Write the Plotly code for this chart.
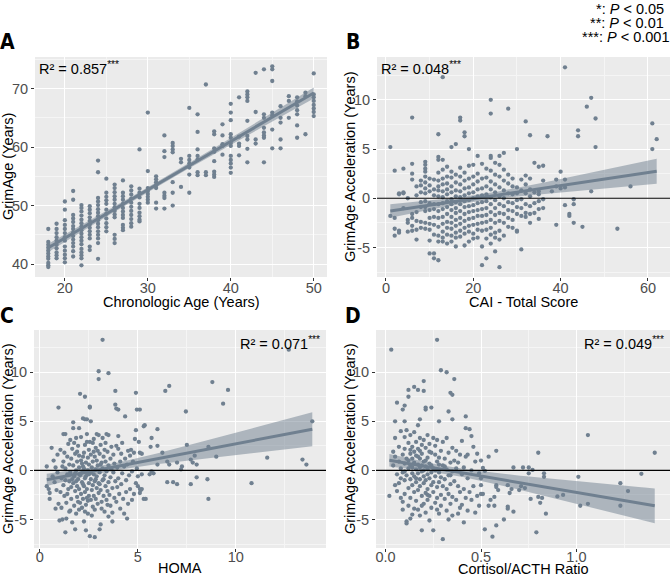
import numpy as np
import plotly.graph_objects as go

# ---------------- Panel A : GrimAge vs chronologic age ----------------
a_ages = [18, 19, 20, 21, 22, 23, 24, 25, 26, 27, 28, 29, 30, 31, 32, 33, 34,
          35, 36, 37, 38, 39, 40, 41, 42, 43, 44, 45, 46, 47, 48, 49, 50]
a_grimage = [
    [46.0, 43.8, 43.3, 42.8, 42.3, 41.8, 41.3, 40.9, 40.2, 39.8, 39.5],
    [46.9, 46.0, 45.3, 44.6, 44.0, 43.3, 42.7, 42.0, 41.5, 41.0],
    [50.7, 49.3, 47.5, 46.7, 46.0, 45.3, 44.6, 44.0, 43.0, 42.3, 41.6, 41.0, 40.3],
    [52.5, 51.0, 48.4, 47.8, 47.2, 46.5, 46.0, 45.4, 44.8, 44.2, 43.6, 43.0, 42.2, 41.3],
    [50.1, 49.6, 49.0, 48.3, 47.6, 47.0, 46.4, 45.8, 45.2, 44.6, 44.0, 43.4, 42.6, 42.0, 41.5, 41.0, 39.8],
    [49.9, 49.3, 48.7, 48.0, 47.4, 46.8, 46.2, 45.6, 45.0, 44.4, 43.0, 42.4],
    [57.7, 55.7, 51.3, 50.7, 50.1, 49.4, 48.8, 48.2, 47.5, 46.9, 46.3, 45.6, 45.0, 44.4, 43.6, 40.9],
    [54.6, 52.2, 51.5, 50.9, 50.3, 49.3, 48.6, 47.8, 47.0, 46.3, 45.6],
    [53.6, 53.0, 52.3, 51.6, 51.0, 50.3, 49.7, 49.1, 48.5, 48.0, 45.0, 44.3, 43.6],
    [54.3, 52.2, 51.6, 51.0, 50.3, 49.6, 49.0, 48.4, 47.9, 46.7, 46.2, 45.8],
    [53.3, 52.6, 51.9, 51.2, 50.5, 49.8, 49.1, 48.4, 47.7, 47.0, 46.4],
    [59.6, 52.9, 52.2, 51.4, 50.3, 49.6, 48.8, 48.2, 47.6, 47.3],
    [65.9, 55.9, 53.0, 52.5, 52.0, 51.5, 51.0, 50.5],
    [55.0, 54.5, 54.0, 53.5, 53.0, 50.5, 49.5],
    [62.0, 59.3, 58.3, 52.2, 51.7, 51.3, 49.5],
    [60.7, 60.2, 59.6, 59.1, 54.0, 52.2, 50.0],
    [58.0, 57.4, 53.2],
    [66.7, 58.5, 57.8, 57.2, 56.5, 55.3, 52.2],
    [65.6, 62.6, 59.6, 58.5, 57.9, 55.7, 55.2],
    [70.7, 55.7, 55.2],
    [62.7, 62.2, 59.8, 59.2, 57.6, 55.8, 55.3, 54.9],
    [63.9, 62.0, 60.5, 60.2, 58.7],
    [67.4, 65.9, 64.6, 62.2, 61.6, 60.7, 60.2, 58.5, 57.8, 57.2, 56.5, 55.6],
    [68.5, 61.8, 60.6, 60.2, 58.6],
    [69.5, 69.0, 68.5, 67.9, 64.5, 61.9, 61.3, 59.7, 57.4],
    [72.7, 66.0, 61.3, 60.6],
    [73.3, 65.6, 65.0, 63.3, 62.5, 62.0, 61.6, 57.4],
    [73.8, 73.3, 71.3, 65.9, 65.4, 63.0, 59.8],
    [67.0, 65.0, 64.2, 61.3, 59.8],
    [68.7, 67.9, 65.0],
    [68.5, 67.8, 67.1, 66.3, 65.6, 63.7, 61.6],
    [69.3, 68.7, 62.2],
    [72.6, 69.0, 68.5, 67.9, 67.2, 66.6, 66.0, 65.3],
]

# ---------------- Panel B : acceleration vs CAI total score ----------------
b_cai = [1, 2, 3, 4, 5, 6, 7, 8, 9, 10, 11, 12, 13, 14, 15, 16, 17, 18, 19, 20,
         21, 22, 23, 24, 25, 26, 27, 28, 29, 30, 31, 32, 33, 34, 35, 36, 37, 38,
         39, 40, 41, 42, 43, 44, 45, 46, 47, 48, 53, 56, 61, 62]
b_accel = [
    [5.2, -1.8],
    [2.8, -2.0, -3.1, -3.8],
    [0.5, 0.4, -3.3, -3.5],
    [3.0, 0.6, 0.5, -1.0],
    [0.0, -2.2, -2.5, -3.4],
    [8.2, 3.5, 2.5, 1.9, -1.6, -2.0, -2.8, -3.3],
    [1.2, 0.3, -1.4, -2.3, -3.2, -4.2],
    [1.8, 1.3, 0.6, -0.4, -0.9, -2.4, -3.0],
    [3.7, 3.4, 3.0, 2.7, 2.2, 1.6, 1.0, 0.5, -0.3, -0.9, -1.3, -2.5, -3.1],
    [2.0, 1.3, 0.7, -0.5, -1.2, -2.0, -2.6, -3.2, -4.3, -5.6],
    [1.9, 0.9, 0.3, -0.6, -1.1, -1.9, -2.7, -3.7, -5.6, -6.1],
    [6.5, 4.2, 3.9, 2.6, 1.8, 1.2, 0.8, 0.2, -0.6, -1.3, -2.0, -2.9, -3.8, -4.4, -6.3],
    [12.3, 3.9, 2.9, 2.0, 1.4, 0.7, 0.1, -0.5, -1.1, -1.9, -2.6, -3.4, -4.0, -4.4],
    [3.2, 2.2, 1.5, 0.9, 0.4, -0.3, -0.9, -1.6, -2.4, -3.0, -3.7, -4.6],
    [5.2, 2.7, 2.1, 1.2, 0.6, -0.1, -0.6, -1.2, -1.9, -2.5, -3.1, -3.8, -4.4],
    [5.5, 2.4, 1.6, 0.8, 0.2, -0.4, -1.0, -1.5, -2.2, -2.8, -3.5, -4.0, -4.9],
    [8.2, 7.9, 3.1, 2.2, 1.4, 0.7, 0.1, -0.6, -1.3, -2.0, -2.6, -3.3, -3.9],
    [6.7, 6.3, 2.6, 1.8, 1.0, 0.3, -0.3, -0.9, -1.6, -2.3, -3.0, -3.6, -4.8],
    [5.0, 3.3, 2.0, 1.1, 0.5, -0.2, -0.8, -1.4, -2.1, -2.8, -3.4, -4.4],
    [3.4, 2.2, 1.4, 0.6, 0.0, -0.7, -1.3, -2.0, -2.7, -3.6, -4.1],
    [4.3, 2.5, 1.7, 0.9, 0.2, -0.5, -1.2, -1.8, -2.6, -3.2, -4.0],
    [3.5, 2.0, 1.0, 0.3, -0.4, -1.1, -1.8, -2.5, -3.3, -4.9, -6.8],
    [3.0, 2.1, 1.2, 0.4, -0.3, -1.0, -1.7, -2.4, -3.2, -4.1, -6.1],
    [10.0, 8.6, 4.3, 4.1, 2.8, 1.7, 0.9, 0.1, -0.6, -1.4, -2.2, -3.0, -3.7, -4.6],
    [3.6, 2.4, 1.4, 0.6, -0.2, -1.0, -1.7, -2.5, -3.5, -4.0, -5.4],
    [4.3, 3.4, 2.2, 1.1, 0.2, -0.6, -1.5, -2.3, -3.3, -4.2, -7.0],
    [4.6, 2.9, 1.8, 0.8, 0.0, -0.8, -1.6, -2.5, -3.8],
    [9.1, 2.4, 1.5, 0.5, -0.4, -1.2, -2.0, -2.9],
    [2.0, 1.2, 0.4, -0.5, -1.3, -2.2, -3.0],
    [5.0, 1.1, 0.5, -0.2, -0.9, -1.6, -3.3, -3.4],
    [1.9, 0.8, -0.1, -1.0, -1.8, -5.2],
    [7.8, 2.3, 1.4, 0.5, -0.6, -1.5, -1.9],
    [6.4, 2.0, 0.9, 0.2, -0.8, -1.6, -2.5],
    [3.6, 0.6, -0.5, -1.5],
    [3.2, 0.7, 0.4, -0.3, -1.1, -2.1],
    [3.3, 1.8, -0.1, -1.0],
    [6.3],
    [0.7],
    [1.9, 1.2, -2.7],
    [2.7, 1.0],
    [13.3, 1.9, 1.1, -0.7],
    [-1.6, -1.8],
    [-0.1, -0.6, -2.5],
    [6.9, 6.3],
    [-2.9],
    [9.3],
    [10.2, 0.7],
    [8.1, 5.2],
    [-3.1],
    [1.2],
    [7.6, 5.0],
    [6.0],
]

# ---------------- Panel C : acceleration vs HOMA ----------------
c_pairs = [
    (0.35, 0.4), (0.35, -1.6), (0.45, -1.9), (0.5, -2.3), (0.5, -2.9), (0.6, 2.3), (0.65, -0.6),
    (0.7, 1.0), (0.75, -1.2), (0.8, 0.3), (0.85, -2.0), (0.9, 1.6), (0.95, 6.4), (0.95, -3.4),
    (1.0, -5.1), (0.9, -0.2), (0.8, -3.9),
    (1.05, 2.1), (1.1, -0.8), (1.15, -5.0), (1.2, 3.7), (1.2, 0.9), (1.2, -1.5), (1.25, -2.6),
    (1.3, 3.7), (1.3, -6.3), (1.3, 0.2), (1.35, -3.3), (1.4, 1.4), (1.4, -0.4), (1.45, -1.9),
    (1.45, 2.7), (1.5, -4.2), (1.5, 0.6), (1.1, -3.8), (1.35, -4.9), (1.25, 1.8), (1.4, -2.4),
    (1.15, 0.4), (1.5, -1.1), (1.05, -2.2), (1.3, -1.0),
    (1.55, 3.1), (1.55, -0.2), (1.6, -2.9), (1.6, 1.2), (1.65, -5.3), (1.65, 2.2), (1.7, 4.9),
    (1.7, 4.3), (1.7, -1.3), (1.7, 0.5), (1.75, -3.6), (1.75, -0.6), (1.8, -6.0), (1.8, 1.7),
    (1.8, -2.1), (1.85, 0.0), (1.85, 3.3), (1.85, -4.4), (1.9, -1.6), (1.9, 0.9), (1.9, -2.7),
    (1.95, 2.5), (1.95, -0.9), (1.95, -3.2), (2.0, 4.3), (2.0, 0.3), (2.0, -1.9), (2.0, -4.0),
    (1.6, -1.7), (1.65, -0.9), (1.75, 2.8), (1.8, -0.3), (1.9, 1.9), (1.55, -4.1), (2.0, 1.5),
    (1.85, -1.1),
    (2.05, 7.8), (2.05, -0.5), (2.1, -2.4), (2.1, 1.0), (2.1, 3.4), (2.15, -1.2), (2.15, -3.8),
    (2.2, 5.3), (2.2, 0.4), (2.2, -0.1), (2.2, -2.9), (2.25, 1.8), (2.25, -1.6), (2.25, -5.2),
    (2.3, 7.5), (2.3, 5.2), (2.3, 2.6), (2.3, -0.8), (2.3, -2.2), (2.35, -6.1), (2.35, 0.8),
    (2.35, -3.5), (2.4, 5.2), (2.4, 3.7), (2.4, 2.9), (2.4, -0.3), (2.4, -1.9), (2.45, 1.3),
    (2.45, -4.4), (2.45, 0.0), (2.5, -2.6), (2.5, 0.6), (2.5, -1.3), (2.5, 2.1), (2.1, -0.3),
    (2.2, 1.4), (2.3, -4.2), (2.15, 0.7), (2.45, -3.1), (2.05, -3.3), (2.35, -0.6), (2.25, 0.2),
    (2.5, -0.4), (2.4, -2.8), (2.2, -1.4),
    (2.55, 6.4), (2.55, 6.5), (2.55, 2.9), (2.55, -6.7), (2.6, 5.0), (2.6, -0.9), (2.6, -3.0),
    (2.6, 1.6), (2.65, 0.3), (2.65, -2.0), (2.7, 2.8), (2.7, -1.5), (2.7, -3.7), (2.7, 0.9),
    (2.75, -0.4), (2.75, 3.2), (2.75, -2.6), (2.8, -6.8), (2.8, 1.4), (2.8, -1.1), (2.8, -4.0),
    (2.85, 0.1), (2.85, 2.3), (2.85, -2.9), (2.9, 3.7), (2.9, -0.6), (2.9, -1.8), (2.9, 1.0),
    (2.95, -3.4), (2.95, 0.5), (3.0, 10.1), (3.0, 9.3), (3.0, 3.6), (3.0, -1.3), (3.0, -2.3),
    (2.65, -4.6), (2.75, 1.9), (2.6, -0.2), (2.85, -0.9), (2.95, 2.0),
    (3.05, -6.0), (3.05, 1.7), (3.05, -0.2), (3.1, -5.5), (3.1, 2.6), (3.1, -2.0), (3.15, 0.8),
    (3.15, -3.2), (3.2, 13.3), (3.2, 3.3), (3.2, -1.0), (3.2, 0.2), (3.25, -2.6), (3.25, 1.4),
    (3.3, -4.2), (3.3, 2.1), (3.3, -0.5), (3.35, -1.6), (3.35, 0.9), (3.4, 3.7), (3.4, -3.0),
    (3.4, -0.1), (3.45, 1.9), (3.45, -2.1), (3.5, 9.9), (3.5, 3.6), (3.5, -4.7), (3.5, 0.5),
    (3.5, -1.2), (3.15, -3.9), (3.35, 2.8), (3.05, -1.4), (3.45, -3.5), (3.25, -0.9), (3.1, 0.6),
    (3.55, -2.5), (3.6, 1.2), (3.6, -0.7), (3.6, -3.6), (3.65, 2.4), (3.65, 0.1), (3.7, -1.8),
    (3.7, -4.3), (3.75, 1.6), (3.75, -0.2), (3.8, 0.7), (3.8, -2.8), (3.85, 8.1), (3.85, 6.7),
    (3.85, -1.1), (3.9, 6.3), (3.9, 2.5), (3.9, -3.2), (3.95, 0.3), (3.95, -1.7), (4.0, 6.2),
    (4.0, 2.2), (4.0, -0.8), (4.0, 3.5), (3.7, -5.2),
    (4.05, -2.4), (4.1, 0.9), (4.1, -3.9), (4.15, 1.7), (4.15, -1.4), (4.2, -0.3), (4.2, 2.8),
    (4.25, -2.9), (4.3, 0.4), (4.3, -4.4), (4.35, 5.5), (4.35, 1.2), (4.4, -1.0), (4.4, -2.2),
    (4.45, -4.9), (4.45, 0.6), (4.5, 2.0), (4.5, -3.4),
    (4.55, -0.5), (4.6, 1.5), (4.6, -1.9), (4.65, 2.1), (4.7, -0.1), (4.7, -3.0), (4.75, 0.9),
    (4.8, 1.8), (4.8, -2.4), (4.85, 3.2), (4.9, 7.9), (4.9, 4.1), (4.9, -1.3), (4.95, 6.2),
    (4.95, 0.2), (5.0, -1.6), (5.05, 2.9), (5.1, 6.2), (5.1, 1.8), (5.15, -2.0), (5.2, 1.7),
    (5.2, -0.4), (5.3, 4.5), (5.35, 4.6), (5.3, -2.9), (5.1, -2.3), (5.0, -0.6), (5.1, -1.9),
    (5.2, -1.9), (5.4, -2.9),
    (5.7, 3.3), (5.7, -0.1), (5.65, 2.4), (5.6, -0.4), (5.8, -0.3), (6.0, 4.2), (6.0, 2.5),
    (6.0, 0.6), (6.25, 1.8), (6.4, 8.1), (6.5, -1.2), (6.5, 0.9), (6.6, 8.6), (6.6, 0.6),
    (6.8, -1.2), (7.0, 0.8), (7.0, -1.4), (7.2, 0.1), (7.25, 0.4), (7.45, 6.0), (7.5, 2.6),
    (7.7, 1.1), (7.7, -1.4), (7.8, 0.8), (7.9, 1.5), (8.0, 0.6), (8.0, -0.7), (8.55, -0.9),
    (8.6, -2.9), (8.6, 2.4), (8.8, 9.0), (9.0, 1.4), (9.35, 6.8), (9.6, 8.2), (10.8, -1.3),
    (11.6, 1.3), (12.7, 12.3), (13.4, 1.1), (13.6, 0.6), (13.9, 5.0),
]
c_homa = [p[0] for p in c_pairs]
c_accel = [p[1] for p in c_pairs]

# ---------------- Panel D : acceleration vs cortisol/ACTH ratio ----------------
d_pairs = [
    (0.03, 12.3), (0.27, 13.3), (0.29, 10.2), (0.32, 10.0), (0.36, 9.3), (0.2, 9.1), (0.15, 8.5),
    (0.17, 8.2), (0.12, 8.2), (0.12, 7.5), (0.2, 8.1), (0.34, 7.9), (0.35, 7.7), (0.06, 6.9),
    (0.1, 6.6), (0.09, 6.2), (0.21, 6.4), (0.21, 6.2), (0.24, 6.4), (0.33, 6.0), (0.35, 5.2),
    (0.42, 5.5), (0.05, 5.0), (0.18, 5.2), (0.10, 5.0), (0.28, 5.0),
    (0.02, -2.6), (0.04, 0.5), (0.05, 1.4), (0.05, 3.3), (0.06, -0.4), (0.06, -2.1), (0.07, 2.4),
    (0.07, 0.9), (0.07, -1.3), (0.08, 4.0), (0.08, -0.8), (0.08, -2.8), (0.05, -1.5), (0.04, 1.9),
    (0.08, 0.2),
    (0.09, 1.6), (0.09, -0.2), (0.09, -3.2), (0.10, 3.4), (0.10, 2.2), (0.10, 0.7), (0.10, -1.0),
    (0.10, -2.4), (0.11, -5.2), (0.11, -5.4), (0.11, 1.2), (0.11, -0.5), (0.11, 4.1), (0.12, 2.8),
    (0.12, 0.2), (0.12, -1.8), (0.12, -3.6), (0.12, 1.0), (0.09, -4.0), (0.1, -0.1),
    (0.13, 3.6), (0.13, 1.7), (0.13, -0.9), (0.13, -2.8), (0.13, 0.5), (0.14, 2.4), (0.14, -0.3),
    (0.14, -1.5), (0.14, -4.5), (0.14, 1.2), (0.15, 3.9), (0.15, 0.8), (0.15, -2.2), (0.15, -0.6),
    (0.15, -3.9), (0.16, 2.9), (0.16, 1.5), (0.16, 0.1), (0.16, -1.2), (0.16, -3.1), (0.13, -4.9),
    (0.15, 1.9), (0.14, 0.3), (0.16, -0.8), (0.13, 2.1),
    (0.17, 4.6), (0.17, 2.2), (0.17, 0.6), (0.17, -0.3), (0.17, -2.0), (0.17, -4.0), (0.18, 3.3),
    (0.18, 1.2), (0.18, -0.9), (0.18, -1.6), (0.18, -4.6), (0.18, 0.3), (0.19, 2.6), (0.19, -0.1),
    (0.19, -2.6), (0.19, -6.1), (0.19, 1.7), (0.2, 3.1), (0.2, 0.9), (0.2, -1.3), (0.2, -3.4),
    (0.2, 0.0), (0.17, 1.4), (0.19, -3.6), (0.18, 2.0), (0.2, -0.6), (0.19, 0.5),
    (0.21, 2.3), (0.21, 0.4), (0.21, -1.0), (0.21, -2.3), (0.21, -4.3), (0.22, 3.6), (0.22, 1.3),
    (0.22, -0.4), (0.22, -1.9), (0.22, -3.0), (0.23, 2.7), (0.23, 0.7), (0.23, -0.8), (0.23, -2.6),
    (0.23, -5.1), (0.24, 1.8), (0.24, -0.2), (0.24, -1.5), (0.24, -3.8), (0.22, 0.1), (0.23, 1.9),
    (0.21, 1.0), (0.24, 0.5), (0.22, -2.5),
    (0.25, 3.3), (0.25, 0.2), (0.25, -6.1), (0.25, -2.2), (0.26, 1.6), (0.26, -0.6), (0.26, -3.3),
    (0.26, 2.5), (0.27, 0.9), (0.27, -1.7), (0.27, -2.8), (0.27, 3.1), (0.28, -0.2), (0.28, -4.4),
    (0.28, 1.3), (0.28, -1.2), (0.29, 2.0), (0.29, -2.5), (0.29, -0.7), (0.29, -3.6), (0.30, -7.0),
    (0.30, 0.5), (0.30, -1.6), (0.30, 2.9), (0.25, -1.2), (0.27, -4.0), (0.28, 0.6), (0.26, 0.0),
    (0.31, 1.2), (0.31, -0.9), (0.31, -2.9), (0.32, 3.3), (0.32, 0.1), (0.32, -4.1), (0.32, -1.9),
    (0.33, 1.8), (0.33, -0.5), (0.33, -2.4), (0.33, -5.0), (0.34, 0.8), (0.34, -1.4), (0.34, -3.4),
    (0.35, 2.3), (0.35, -0.1), (0.35, -2.7), (0.35, -4.6), (0.36, 1.0), (0.36, -1.1), (0.31, 0.4),
    (0.34, -0.5),
    (0.37, -3.0), (0.37, 0.2), (0.37, 2.0), (0.38, -1.6), (0.38, -4.4), (0.38, 0.8), (0.39, -2.2),
    (0.39, 1.6), (0.4, -0.4), (0.4, -3.5), (0.4, 3.0), (0.41, 0.3), (0.41, -1.9), (0.41, -5.3),
    (0.42, 1.4), (0.42, -2.8), (0.42, 4.3), (0.43, -0.8), (0.43, -4.1), (0.43, 1.6), (0.44, -2.2),
    (0.44, 4.2), (0.39, -3.8),
    (0.45, 3.5), (0.45, 0.0), (0.45, -3.0), (0.46, -1.6), (0.46, 2.4), (0.47, -4.3), (0.47, 0.9),
    (0.48, -2.6), (0.48, 1.7), (0.49, -0.3), (0.49, -3.6), (0.5, 1.0), (0.5, -1.5), (0.5, -0.8),
    (0.5, -2.4), (0.51, -2.4), (0.51, 0.25), (0.52, -0.05), (0.52, -6.0),
    (0.54, 1.4), (0.58, 2.0), (0.54, -3.6), (0.57, -3.6), (0.55, -3.0), (0.57, -2.7), (0.56, -6.75),
    (0.58, -5.6), (0.62, -5.0), (0.64, -3.7), (0.64, -3.9), (0.67, -4.2), (0.58, -1.5), (0.58, -1.7),
    (0.59, -2.0), (0.65, -2.3), (0.66, -1.9), (0.70, -2.0), (0.71, -1.6), (0.73, -1.8), (0.64, -1.5),
    (0.67, 0.3), (0.72, 0.3), (0.75, 0.3), (0.77, 0.05), (0.75, -0.3), (0.83, -0.3), (0.83, -0.65),
    (0.80, 1.8), (0.76, -2.9), (0.80, -2.7), (0.82, -2.8), (0.81, -3.3), (0.84, -4.4), (0.79, -6.3),
    (0.90, -2.65), (0.93, -2.5), (1.01, -0.65), (1.02, -3.6), (1.06, -3.4), (1.06, 3.6),
    (1.23, -1.3), (1.27, -2.1), (1.23, -3.6), (1.34, -0.35), (1.41, 1.8),
]
d_ratio = [p[0] for p in d_pairs]
d_accel = [p[1] for p in d_pairs]

# tick values / labels
a_xticks = [20, 30, 40, 50]
a_yticks = [40, 50, 60, 70]
b_xticks = [0, 20, 40, 60]
c_xticks = [0, 5, 10]
d_xticks = [0.0, 0.5, 1.0]
d_xticklabels = ["0.0", "0.5", "1.0"]
accel_yticks = [-5, 0, 5, 10]
accel_yticklabels = ["-5", "0", "5", "10"]

r2_text = ["R² = 0.857", "R² = 0.048", "R² = 0.071", "R² = 0.049"]
r2_stars = ["***", "***", "***", "***"]
panel_letters = ["A", "B", "C", "D"]
x_titles = ["Chronologic Age (Years)", "CAI - Total Score", "HOMA", "Cortisol/ACTH Ratio"]
y_titles = ["GrimAge (Years)", "GrimAge Acceleration (Years)",
            "GrimAge Acceleration (Years)", "GrimAge Acceleration (Years)"]
sig_keys = ["*", "**", "***"]
sig_levels = ["0.05", "0.01", "0.001"]

# ---------------- flatten column tables ----------------
a_x, a_y = [], []
for age, vals in zip(a_ages, a_grimage):
    a_x += [age] * len(vals)
    a_y += vals
b_x, b_y = [], []
for s, vals in zip(b_cai, b_accel):
    b_x += [s] * len(vals)
    b_y += vals

datasets = [(a_x, a_y), (b_x, b_y), (c_homa, c_accel), (d_ratio, d_accel)]
xtick_sets = [(a_xticks, [str(v) for v in a_xticks]), (b_xticks, [str(v) for v in b_xticks]),
              (c_xticks, [str(v) for v in c_xticks]), (d_xticks, d_xticklabels)]
ytick_sets = [(a_yticks, [str(v) for v in a_yticks]), (accel_yticks, accel_yticklabels),
              (accel_yticks, accel_yticklabels), (accel_yticks, accel_yticklabels)]

# ---------------- styling / geometry ----------------
W, H = 671, 578

PT = "#708090"
BAND = "rgba(112,128,144,0.50)"
BG = "#EBEBEB"
FONT = "Liberation Sans, Arial, sans-serif"
LETTER_FONT = "Liberation Sans Narrow, DejaVu Sans Condensed, Liberation Sans, sans-serif"
FS = 14.5

# panel boxes in window pixels: (left, right, top, bottom)
boxes = [(35, 327, 57, 277), (377, 670, 57, 277), (34, 326, 330, 548), (376, 670, 330, 548)]
xranges = [[16.4, 51.6], [-2.05, 65.05], [-0.3, 14.6], [-0.05, 1.49]]
yranges = [[37.8, 75.4], [-8.0, 14.35], [-7.9, 14.3], [-7.9, 14.3]]
xminor = [5, 10, 2.5, 0.25]
yminor = [5, 2.5, 2.5, 2.5]
xlab_shift = [-5, -5, -7, -7]
xtitle_y = [302, 302, 568, 569]
ytitle_x = [8, 350, 8, 350]


def px2x(p):
    return p / W


def px2y(p):
    return 1 - p / H


fig = go.Figure()

for i, (xs, ys) in enumerate(datasets):
    n = "" if i == 0 else str(i + 1)
    xa, ya = "x" + n, "y" + n
    xs = np.asarray(xs, float)
    ys = np.asarray(ys, float)

    fig.add_trace(go.Scatter(x=xs, y=ys, mode="markers", xaxis=xa, yaxis=ya,
                             marker=dict(color=PT, size=4.3, line=dict(width=0)),
                             showlegend=False, hoverinfo="skip"))

    # linear fit with 95% confidence band
    slope, icpt = np.polyfit(xs, ys, 1)
    grid = np.linspace(xs.min(), xs.max(), 80)
    fit = icpt + slope * grid
    resid = ys - (icpt + slope * xs)
    nobs = len(xs)
    s = np.sqrt(np.sum(resid ** 2) / (nobs - 2))
    sxx = np.sum((xs - xs.mean()) ** 2)
    se = s * np.sqrt(1.0 / nobs + (grid - xs.mean()) ** 2 / sxx)
    tq = 1.968
    upper, lower = fit + tq * se, fit - tq * se
    fig.add_trace(go.Scatter(x=np.concatenate([grid, grid[::-1]]),
                             y=np.concatenate([upper, lower[::-1]]),
                             fill="toself", fillcolor=BAND, line=dict(width=0),
                             mode="lines", xaxis=xa, yaxis=ya, showlegend=False,
                             hoverinfo="skip"))
    fig.add_trace(go.Scatter(x=grid, y=fit, mode="lines", xaxis=xa, yaxis=ya,
                             line=dict(color=PT, width=3), showlegend=False,
                             hoverinfo="skip"))

    l, r, t, b = boxes[i]
    axis_common = dict(showgrid=True, gridcolor="white", gridwidth=1.1, automargin=False,
                       zeroline=False, showline=False, ticks="outside", ticklen=3,
                       tickcolor="#333333", tickwidth=1,
                       tickfont=dict(family=FONT, size=FS, color="#4D4D4D"))
    fig.layout["xaxis" + n] = dict(
        domain=[px2x(l), px2x(r)], anchor=ya, range=xranges[i],
        tickmode="array", tickvals=xtick_sets[i][0], ticktext=xtick_sets[i][1],
        ticklabelstandoff=xlab_shift[i],
        minor=dict(dtick=xminor[i], tick0=0, showgrid=True, gridcolor="#F5F5F5",
                   gridwidth=0.6, ticks=""),
        **axis_common)
    fig.layout["yaxis" + n] = dict(
        domain=[px2y(b), px2y(t)], anchor=xa, range=yranges[i],
        tickmode="array", tickvals=ytick_sets[i][0], ticktext=ytick_sets[i][1],
        minor=dict(dtick=yminor[i], tick0=0, showgrid=True, gridcolor="#F5F5F5",
                   gridwidth=0.6, ticks=""),
        **axis_common)

    # axis titles
    fig.add_annotation(x=px2x((l + r) / 2), y=px2y(xtitle_y[i]), xref="paper", yref="paper",
                       xanchor="center", yanchor="middle", text=x_titles[i], showarrow=False,
                       font=dict(family=FONT, size=FS, color="black"))
    fig.add_annotation(x=px2x(ytitle_x[i]), y=px2y((t + b) / 2), xref="paper", yref="paper",
                       xanchor="center", yanchor="middle", text=y_titles[i], showarrow=False,
                       textangle=-90, font=dict(family=FONT, size=FS, color="black"))

    # zero reference line (panels B-D)
    if i > 0:
        fig.add_shape(type="line", xref=xa + " domain", yref=ya, x0=0, x1=1, y0=0, y1=0,
                      line=dict(color="black", width=1.2), layer="above")

    # R² annotation
    label = f"{r2_text[i]}<sup>{r2_stars[i]}</sup>"
    if i < 2:
        fig.add_annotation(x=px2x(l + 2), y=px2y(t), xref="paper", yref="paper",
                           xanchor="left", yanchor="top", text=label, showarrow=False,
                           font=dict(family=FONT, size=FS, color="black"))
    else:
        fig.add_annotation(x=px2x(r - 4), y=px2y(t + 2), xref="paper", yref="paper",
                           xanchor="right", yanchor="top", text=label, showarrow=False,
                           font=dict(family=FONT, size=FS, color="black"))

# panel letters
letter_pos = [(7, 42), (353, 42), (7, 316), (353, 316)]
for letter, (lx, ly) in zip(panel_letters, letter_pos):
    fig.add_annotation(x=px2x(lx), y=px2y(ly), xref="paper", yref="paper",
                       xanchor="center", yanchor="middle", text=f"<b>{letter}</b>",
                       showarrow=False, font=dict(family=LETTER_FONT, size=21, color="black"))

# significance key (top right)
key_y = [9, 23, 37]
key_right = [666, 666, 671]
for k, lev, ky, kr in zip(sig_keys, sig_levels, key_y, key_right):
    fig.add_annotation(x=px2x(kr), y=px2y(ky), xref="paper", yref="paper",
                       xanchor="right", yanchor="middle",
                       text=f"{k}: <i>P</i> &lt; {lev}", showarrow=False,
                       font=dict(family=FONT, size=FS, color="black"))

fig.update_layout(width=W, height=H, margin=dict(l=0, r=0, t=0, b=0, autoexpand=False),
                  paper_bgcolor="white", plot_bgcolor=BG, showlegend=False,
                  font=dict(family=FONT))

# remove the browser's default page margin so the figure sits at the window origin
fig.write_html("out.html", config={"displayModeBar": False},
               post_script="document.body.style.margin='0px';")
